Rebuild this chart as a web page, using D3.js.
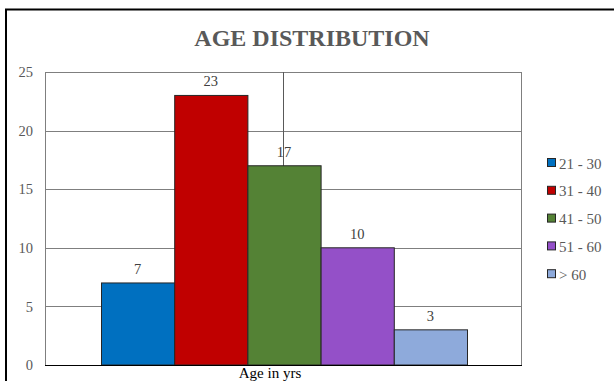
<!DOCTYPE html>
<html><head><meta charset="utf-8">
<script src="https://cdn.jsdelivr.net/npm/d3@7"></script>
<style>body{margin:0;background:#fff}svg{display:block}</style>
</head><body>
<script>
const categories = ["21 - 30","31 - 40","41 - 50","51 - 60","> 60"];
const values = [7,23,17,10,3];
const colors = ["#0070C0","#C00000","#548235","#9450C8","#8EAADB"];
const yTicks = [0,5,10,15,20,25];
const title = "AGE DISTRIBUTION";
const xLabel = "Age in yrs";

const W=614,H=381;
const svg=d3.select("body").append("svg").attr("width",W).attr("height",H);
const font="'Liberation Serif','Times New Roman',serif";
const gray="#595959";

svg.append("rect").attr("x",6).attr("y",9.5).attr("width",700).attr("height",500)
  .attr("fill","none").attr("stroke","#000").attr("stroke-width",2);

const L=45,R=521,T=72,B=365;
const y=d3.scaleLinear().domain([0,25]).range([B,T]);
const x=d3.scaleBand().domain(categories).range([101,467]).padding(0);

svg.append("g").selectAll("line").data(yTicks.filter(d=>d>0)).join("line")
  .attr("x1",L).attr("x2",R).attr("y1",d=>Math.round(y(d))+0.5).attr("y2",d=>Math.round(y(d))+0.5)
  .attr("stroke","#7f7f7f").attr("stroke-width",1);
svg.append("line").attr("x1",L+0.5).attr("x2",L+0.5).attr("y1",T).attr("y2",B).attr("stroke","#7f7f7f");
svg.append("line").attr("x1",R+0.5).attr("x2",R+0.5).attr("y1",T).attr("y2",B).attr("stroke","#7f7f7f");
svg.append("line").attr("x1",283.5).attr("x2",283.5).attr("y1",T).attr("y2",B).attr("stroke","#595959");

svg.append("g").selectAll("rect").data(values).join("rect")
  .attr("x",(d,i)=>x(categories[i])+0.5).attr("width",x.bandwidth())
  .attr("y",d=>y(d)).attr("height",d=>B-y(d))
  .attr("fill",(d,i)=>colors[i]).attr("stroke","#262626").attr("stroke-width",1);

svg.append("g").selectAll("text").data(values).join("text")
  .attr("x",(d,i)=>x(categories[i])+x.bandwidth()/2).attr("y",d=>y(d)-9)
  .attr("text-anchor","middle").attr("font-family",font).attr("font-size",14.5).attr("fill","#404040")
  .text(d=>d);

svg.append("line").attr("x1",L).attr("x2",R+1).attr("y1",B+0.5).attr("y2",B+0.5).attr("stroke","#000");

const yAxis=d3.axisLeft(y).tickValues(yTicks).tickSize(0).tickPadding(0);
const gy=svg.append("g").attr("transform",`translate(33,0)`).call(yAxis);
gy.select(".domain").remove();
gy.selectAll("text").attr("font-family",font).attr("font-size",14.5).attr("fill",gray);

svg.append("text").attr("x",270).attr("y",378).attr("text-anchor","middle")
  .attr("font-family",font).attr("font-size",15).attr("fill","#000").text(xLabel);

svg.append("text").attr("x",312).attr("y",46).attr("text-anchor","middle")
  .attr("font-family",font).attr("font-size",24).attr("font-weight","bold").attr("fill",gray).text(title);

const lg=svg.append("g");
categories.forEach((c,i)=>{
  const cy=163+i*27.8;
  lg.append("rect").attr("x",547.5).attr("y",cy-4.5).attr("width",8).attr("height",8)
    .attr("fill",colors[i]).attr("stroke","#262626").attr("stroke-width",1);
  lg.append("text").attr("x",559).attr("y",cy+5.5).attr("font-family",font).attr("font-size",15)
    .attr("fill",gray).text(c);
});
</script>
</body></html>
